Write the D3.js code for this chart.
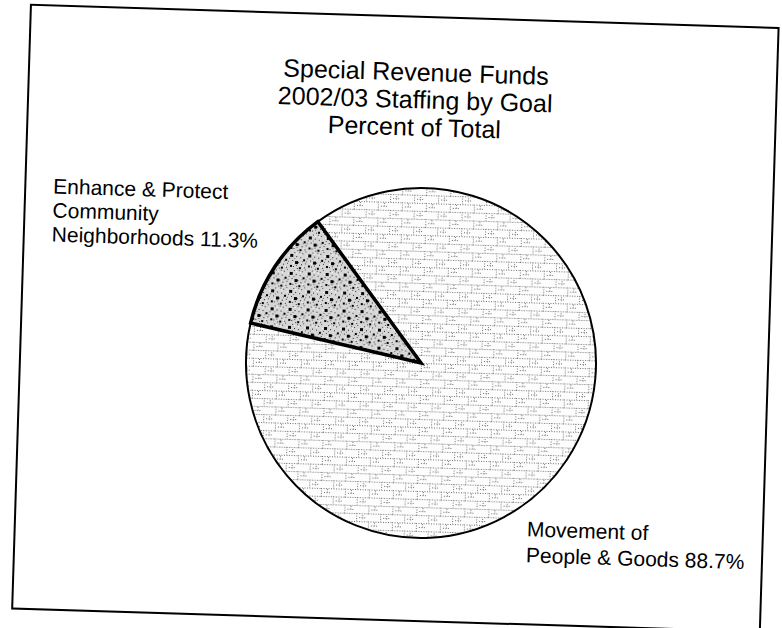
<!DOCTYPE html>
<html>
  <head>
    <meta charset="utf-8">
    <script src="https://cdn.jsdelivr.net/npm/d3@7"></script>
    <style>
      html, body { margin: 0; padding: 0; background: #fff; }
      svg text { font-family: "Liberation Sans", Arial, sans-serif; fill: #000; }
    </style>
    <title>Special Revenue Funds</title>
  </head>
  <body>
    <div id="chart"></div>
    <script>
        var titleLines = ["Special Revenue Funds", "2002/03 Staffing by Goal", "Percent of Total"];
        var categories = ["Movement of People & Goods", "Enhance & Protect Community Neighborhoods"];
        var percents = [88.7, 11.3];
        var labelLines = [["Movement of", "People & Goods"], ["Enhance & Protect", "Community", "Neighborhoods"]];

        var width = 782,
            height = 628;
        var cx = 421, cy = 363, radius = 175;
        // the scanned page is turned a little clockwise
        var tilt = 1.78;

        var svg = d3.select("#chart").append("svg")
            .attr("width", width)
            .attr("height", height);

        var defs = svg.append("defs");

        // light brick-like stipple for the big slice
        var light = defs.append("pattern")
            .attr("id", "lightFill")
            .attr("patternUnits", "userSpaceOnUse")
            .attr("width", 24)
            .attr("height", 16);
        light.append("rect").attr("width", 24).attr("height", 16).attr("fill", "#fdfdfd");
        var brick = [[0, 0.5, 24, 0.5], [0, 8.5, 24, 8.5], [0.5, 0, 0.5, 8], [12.5, 8, 12.5, 16],
                     [6.5, 1, 6.5, 6], [18.5, 10, 18.5, 15], [3, 4.5, 9, 4.5], [15, 12.5, 21, 12.5]];
        light.selectAll("line").data(brick).enter().append("line")
            .attr("x1", function (d) { return d[0]; })
            .attr("y1", function (d) { return d[1]; })
            .attr("x2", function (d) { return d[2]; })
            .attr("y2", function (d) { return d[3]; })
            .attr("stroke", "#6e6e6e")
            .attr("stroke-width", 1)
            .attr("stroke-dasharray", "1 1.5");

        // dark speckle for the small slice
        var dark = defs.append("pattern")
            .attr("id", "darkFill")
            .attr("patternUnits", "userSpaceOnUse")
            .attr("width", 18)
            .attr("height", 18);
        dark.append("rect").attr("width", 18).attr("height", 18).attr("fill", "#d6d6d6");
        var specks = [[1,1,1,"#444"],[4,2,1,"#333"],[7,0,1,"#555"],[10,3,3,"#000"],[14,1,1,"#444"],[16,5,1,"#222"],
                      [2,6,1,"#333"],[5,8,2,"#000"],[9,7,1,"#555"],[12,9,1,"#333"],[15,10,3,"#000"],[0,11,1,"#444"],
                      [3,13,1,"#222"],[7,12,1,"#444"],[10,14,2,"#000"],[13,15,1,"#333"],[16,14,1,"#555"],[1,16,2,"#000"],
                      [6,16,1,"#333"],[11,5,1,"#222"],[8,10,1,"#666"],[17,17,1,"#333"],[4,10,1,"#777"],[14,7,1,"#777"],
                      [2,3,1,"#fff"],[8,4,1,"#fff"],[13,12,1,"#fff"],[5,15,1,"#fff"],[16,2,1,"#fff"]];
        dark.selectAll("rect.s").data(specks).enter().append("rect")
            .attr("class", "s")
            .attr("x", function (d) { return d[0]; })
            .attr("y", function (d) { return d[1]; })
            .attr("width", function (d) { return d[2]; })
            .attr("height", function (d) { return d[2]; })
            .attr("fill", function (d) { return d[3]; });

        var page = svg.append("g")
            .attr("transform", "rotate(" + tilt + "," + cx + "," + cy + ")");

        // frame
        page.append("rect")
            .attr("x", 20)
            .attr("y", 17)
            .attr("width", 748)
            .attr("height", 604)
            .attr("fill", "none")
            .attr("stroke", "#000")
            .attr("stroke-width", 2);

        page.append("text")
            .attr("x", 407)
            .attr("y", 81)
            .attr("text-anchor", "middle")
            .style("font-size", "25px")
            .selectAll("tspan").data(titleLines).enter().append("tspan")
            .attr("x", 407)
            .attr("dy", function (d, i) { return i === 0 ? 0 : 27.5; })
            .text(function (d) { return d; });

        var startA = -37.9 * Math.PI / 180;
        var pie = d3.pie().sort(null).value(function (d) { return d; })
            .startAngle(startA).endAngle(startA + 2 * Math.PI);
        var arcs = pie(percents);
        var arc = d3.arc().innerRadius(0).outerRadius(radius);

        var g = page.append("g").attr("transform", "translate(" + cx + "," + cy + ")");
        g.selectAll("path.slice").data(arcs).enter().append("path")
            .attr("class", "slice")
            .attr("d", arc)
            .attr("fill", function (d, i) { return i === 0 ? "url(#lightFill)" : "url(#darkFill)"; })
            .attr("stroke", "#000")
            .attr("stroke-width", 2);
        // heavier outline on the small wedge
        g.append("path")
            .datum(arcs[1])
            .attr("d", arc)
            .attr("fill", "none")
            .attr("stroke", "#000")
            .attr("stroke-width", 3.5)
            .attr("stroke-linejoin", "miter");

        var labelPos = [[532, 533], [48, 205]];
        var labelStep = [26, 24];
        var labels = page.selectAll("text.label").data(categories).enter().append("text")
            .attr("class", "label")
            .style("font-size", "21px")
            .attr("x", function (d, i) { return labelPos[i][0]; })
            .attr("y", function (d, i) { return labelPos[i][1]; });
        labels.selectAll("tspan")
            .data(function (d, i) {
                var lines = labelLines[i].slice();
                lines[lines.length - 1] += " " + percents[i] + "%";
                return lines.map(function (t) { return { t: t, k: i }; });
            })
            .enter().append("tspan")
            .attr("x", function (d) { return labelPos[d.k][0]; })
            .attr("dy", function (d, j) { return j === 0 ? 0 : labelStep[d.k]; })
            .text(function (d) { return d.t; });
    </script>
  </body>
</html>
